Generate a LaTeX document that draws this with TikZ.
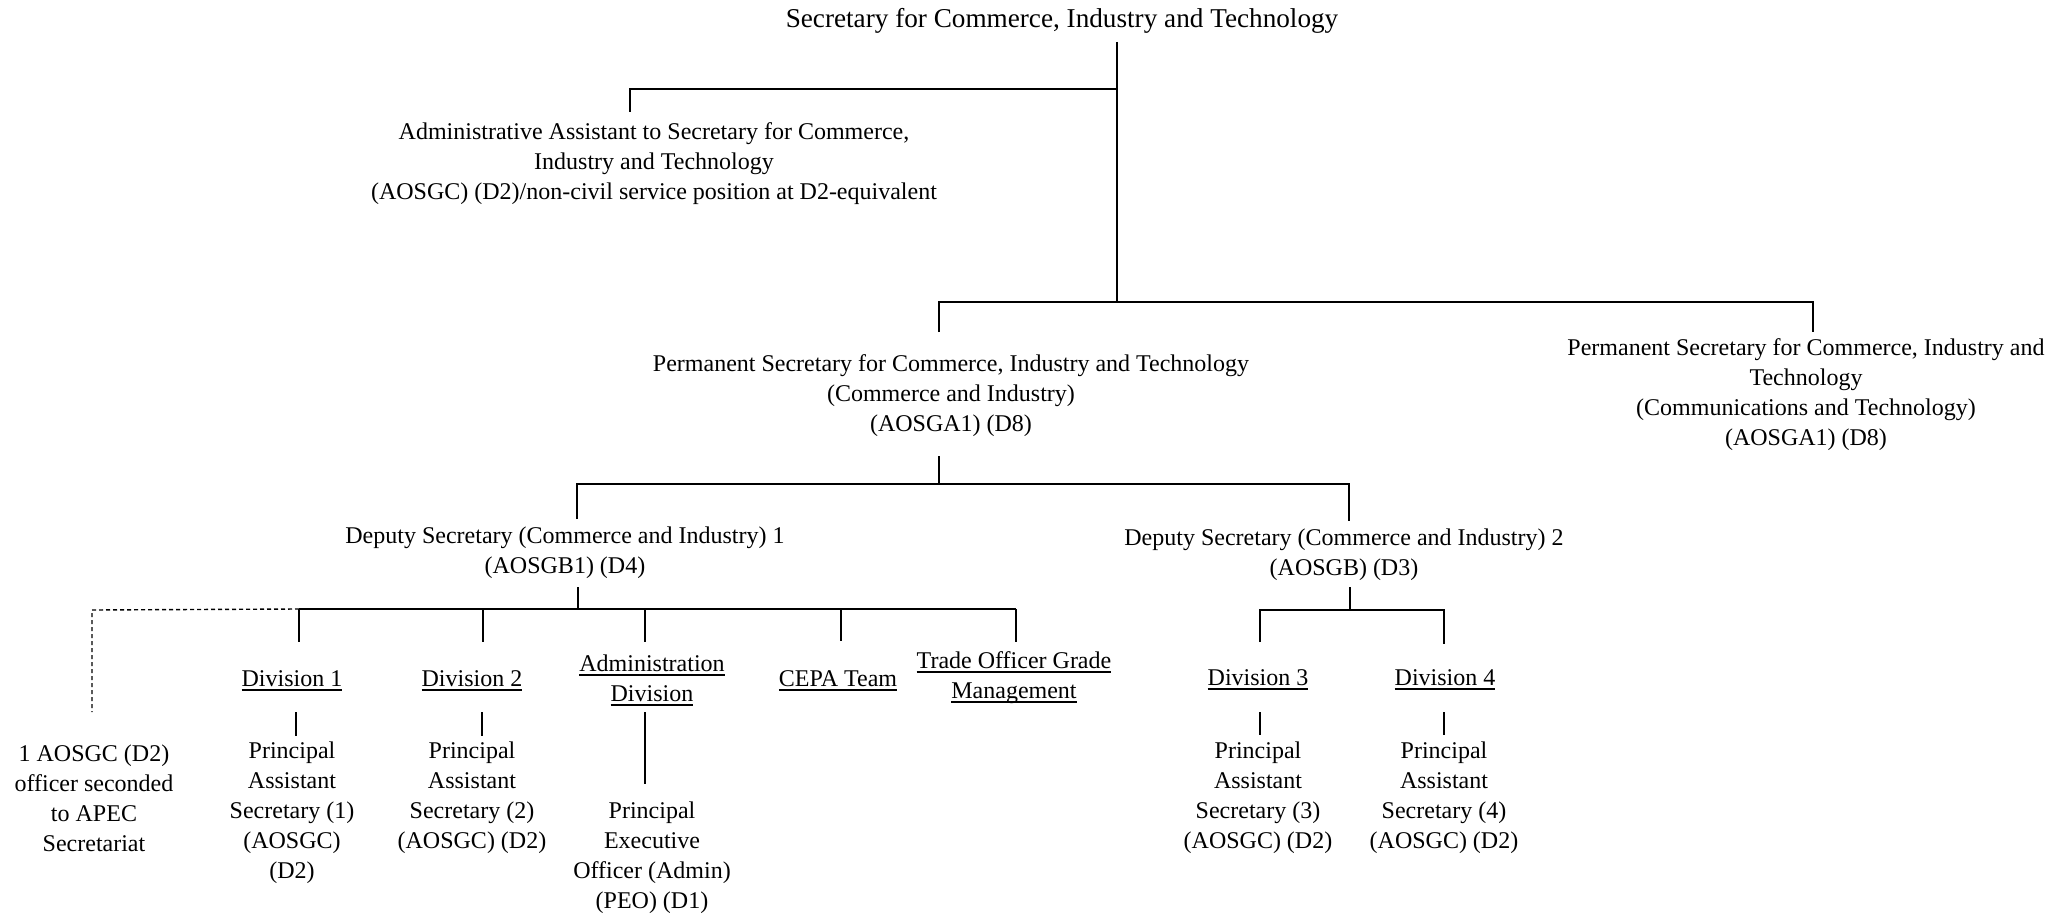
\documentclass[tikz,border=0pt]{standalone}
\usepackage{fontspec}
\setmainfont{Liberation Serif}
\newcommand\ulx[1]{\setbox0=\hbox{#1}\leavevmode\rlap{\smash{\vrule height -1.3pt depth 2.2pt width \wd0}}\box0}
\begin{document}
\begin{tikzpicture}[x=0.5pt,y=-0.5pt,
  lbl/.style={inner sep=0pt,outer sep=0pt,align=center,font=\fontsize{12}{15}\selectfont},
  ttl/.style={inner sep=0pt,outer sep=0pt,align=center,font=\fontsize{13.6}{16}\selectfont},
  conn/.style={line width=0.75pt},
  dconn/.style={line width=0.7pt,dash pattern=on 2pt off 1.5pt}]
\useasboundingbox (0,0) rectangle (2069,915);
% nodes
\node[ttl] (title) at (1062,21) {Secretary for Commerce, Industry and Technology};
\node[lbl] (admin) at (654,164) {Administrative Assistant to Secretary for Commerce,\\Industry and Technology\\(AOSGC) (D2)/non-civil service position at D2-equivalent};
\node[lbl] (ps1) at (951,396) {Permanent Secretary for Commerce, Industry and Technology\\(Commerce and Industry)\\(AOSGA1) (D8)};
\node[lbl] (ps2) at (1806,395) {Permanent Secretary for Commerce, Industry and\\Technology\\(Communications and Technology)\\(AOSGA1) (D8)};
\node[lbl] (ds1) at (565,553) {Deputy Secretary (Commerce and Industry) 1\\(AOSGB1) (D4)};
\node[lbl] (ds2) at (1344,555) {Deputy Secretary (Commerce and Industry) 2\\(AOSGB) (D3)};
\node[lbl] (div1) at (292,679) {\ulx{Division 1}};
\node[lbl] (div2) at (472,679) {\ulx{Division 2}};
\node[lbl] (admdiv) at (652,678) {\ulx{Administration}\\\ulx{Division}};
\node[lbl] (cepa) at (838,679) {\ulx{CEPA Team}};
\node[lbl] (trade) at (1014,678) {\ulx{Trade Officer Grade}\\\ulx{Management}};
\node[lbl] (div3) at (1258,678) {\ulx{Division 3}};
\node[lbl] (div4) at (1445,678) {\ulx{Division 4}};
\node[lbl] (apec) at (94,798) {1 AOSGC (D2)\\officer seconded\\to APEC\\Secretariat};
\node[lbl] (pas1) at (292,813) {Principal\\Assistant\\Secretary (1)\\(AOSGC)\\(D2)};
\node[lbl] (pas2) at (472,798) {Principal\\Assistant\\Secretary (2)\\(AOSGC) (D2)};
\node[lbl] (peo) at (652,858) {Principal\\Executive\\Officer (Admin)\\(PEO) (D1)};
\node[lbl] (pas3) at (1258,798) {Principal\\Assistant\\Secretary (3)\\(AOSGC) (D2)};
\node[lbl] (pas4) at (1444,798) {Principal\\Assistant\\Secretary (4)\\(AOSGC) (D2)};
% junction coordinates
\coordinate (t1) at (1117,42);
\coordinate (t2) at (1117,302);
\coordinate (a0) at (1117,89);
\coordinate (a1) at (630,89);
\coordinate (a2) at (630,112);
\coordinate (p1a) at (939,332);
\coordinate (p1b) at (939,302);
\coordinate (p2b) at (1813,302);
\coordinate (p2a) at (1813,332);
\coordinate (s0) at (939,456);
\coordinate (s1) at (939,484);
\coordinate (d1b) at (577,484);
\coordinate (d1a) at (577,519);
\coordinate (d2b) at (1349,484);
\coordinate (d2a) at (1349,521);
\coordinate (e0) at (578,587);
\coordinate (e1) at (578,609);
\coordinate (c1b) at (299,609);
\coordinate (c1a) at (299,642);
\coordinate (c2b) at (483,609);
\coordinate (c2a) at (483,642);
\coordinate (c3b) at (645,609);
\coordinate (c3a) at (645,642);
\coordinate (c4b) at (841,609);
\coordinate (c4a) at (841,641);
\coordinate (c5b) at (1016,609);
\coordinate (c5a) at (1016,642);
\coordinate (x1) at (92,610);
\coordinate (x2) at (92,712);
\coordinate (b1a) at (296,712);
\coordinate (b1b) at (296,736);
\coordinate (b2a) at (482,712);
\coordinate (b2b) at (482,736);
\coordinate (b3a) at (645,712);
\coordinate (b3b) at (645,784);
\coordinate (f0) at (1350,587);
\coordinate (f1) at (1350,610);
\coordinate (g1b) at (1260,610);
\coordinate (g1a) at (1260,642);
\coordinate (g2b) at (1444,610);
\coordinate (g2a) at (1444,644);
\coordinate (h1a) at (1260,712);
\coordinate (h1b) at (1260,735);
\coordinate (h2a) at (1444,712);
\coordinate (h2b) at (1444,735);
% connectors
\draw[conn] (t1) -- (t2);
\draw[conn] (a0) -- (a1) -- (a2);
\draw[conn] (p1a) -- (p1b) -- (p2b) -- (p2a);
\draw[conn] (s0) -- (s1);
\draw[conn] (d1a) -- (d1b) -- (d2b) -- (d2a);
\draw[conn] (e0) -- (e1);
\draw[conn] (c1b) -- (c5b);
\draw[conn] (c1b) -- (c1a);
\draw[conn] (c2b) -- (c2a);
\draw[conn] (c3b) -- (c3a);
\draw[conn] (c4b) -- (c4a);
\draw[conn] (c5b) -- (c5a);
\draw[dconn] (c1b) -- (x1) -- (x2);
\draw[conn] (b1a) -- (b1b);
\draw[conn] (b2a) -- (b2b);
\draw[conn] (b3a) -- (b3b);
\draw[conn] (f0) -- (f1);
\draw[conn] (g1a) -- (g1b) -- (g2b) -- (g2a);
\draw[conn] (h1a) -- (h1b);
\draw[conn] (h2a) -- (h2b);
\end{tikzpicture}
\end{document}
